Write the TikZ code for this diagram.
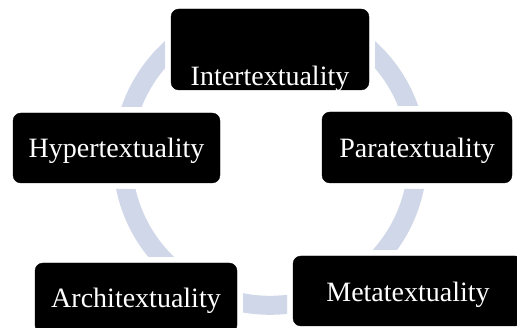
\documentclass[tikz,border=0pt]{standalone}
\usepackage{fontspec}
\setmainfont{Liberation Serif}
\definecolor{ringcol}{RGB}{207,215,232}
\begin{document}
\begin{tikzpicture}[x=1pt,y=-1pt,
  box/.style={fill=black, draw=black, rounded corners=8pt, inner sep=0pt},
  lbl/.style={text=white, font=\fontsize{28}{30}\selectfont, inner sep=0pt}]
\useasboundingbox (0,0) rectangle (517,328);
% ring segments, clipped away near the boxes
\begin{scope}[even odd rule]
  \clip (-50,-50) rectangle (600,400)
    (165,-40) rectangle (375,96)
    (7,107) rectangle (226,189)
    (316,106) rectangle (518,189)
    (29,257) rectangle (243,339)
    (287,250) rectangle (529,332);
  \draw[ringcol, line width=19pt] (270,157.8) circle[radius=147.5pt];
\end{scope}
% boxes
\node[box, minimum width=198pt, minimum height=81pt] (inter) at (270,49.5) {};
\node[lbl] (intertxt) at (270,79) {Intertextuality};
\node[box, minimum width=207pt, minimum height=70pt] (hyper) at (116.5,148) {};
\node[lbl] (hypertxt) at (116.5,151) {Hypertextuality};
\node[box, minimum width=190pt, minimum height=71pt] (para) at (417,147.5) {};
\node[lbl] (paratxt) at (417,150.5) {Paratextuality};
\node[box, minimum width=202pt, minimum height=70pt] (archi) at (136,298) {};
\node[lbl] (architxt) at (136,301) {Architextuality};
\node[box, minimum width=230pt, minimum height=70pt] (meta) at (408,291) {};
\node[lbl] (metatxt) at (408,295) {Metatextuality};
\end{tikzpicture}
\end{document}
